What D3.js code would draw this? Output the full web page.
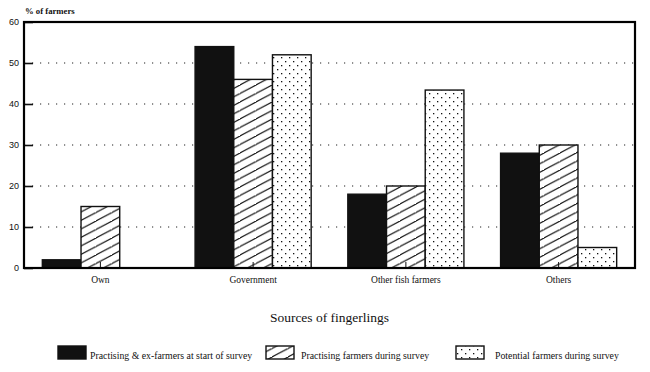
<!DOCTYPE html>
<html><head><meta charset="utf-8">
<script src="https://cdn.jsdelivr.net/npm/d3@7"></script>
<style>body{margin:0;background:#fff}</style>
</head><body>
<svg id="c" width="650" height="372"></svg>
<script>
const categories = ["Own", "Government", "Other fish farmers", "Others"];
const seriesNames = ["Practising & ex-farmers at start of survey", "Practising farmers during survey", "Potential farmers during survey"];
const startSurvey = [2, 54, 18, 28];
const practisingDuring = [15, 46, 20, 30];
const potentialDuring = [0, 52, 43.4, 5];
const yTicks = [0, 10, 20, 30, 40, 50, 60];

const series = [startSurvey, practisingDuring, potentialDuring];
const fills = ["#111", "url(#hatch)", "url(#dots)"];

const svg = d3.select("#c");
const defs = svg.append("defs");
const h = defs.append("pattern").attr("id","hatch").attr("patternUnits","userSpaceOnUse")
  .attr("width",16).attr("height",8.5);
h.append("rect").attr("width",16).attr("height",8.5).attr("fill","#fff");
h.append("path").attr("d","M-16,17 L16,0 M0,8.5 L16,0 M0,8.5 L32,-8.5 M-16,8.5 L16,-8.5").attr("stroke","#111").attr("stroke-width",1.1);
const d = defs.append("pattern").attr("id","dots").attr("patternUnits","userSpaceOnUse")
  .attr("width",8).attr("height",8);
d.append("rect").attr("width",8).attr("height",8).attr("fill","#fff");
d.append("rect").attr("x",1).attr("y",1).attr("width",1.3).attr("height",1.3).attr("fill","#111");
d.append("rect").attr("x",5).attr("y",5).attr("width",1.3).attr("height",1.3).attr("fill","#111");

const L=24, R=635, T=22, B=268;
const x = d3.scaleBand().domain(categories).range([L,R]).paddingInner(0.24).paddingOuter(0.12);
const xs = d3.scaleBand().domain(d3.range(3)).range([0,x.bandwidth()]);
const y = d3.scaleLinear().domain([0,60]).range([B,T]);

// grid
svg.append("g").selectAll("line").data(yTicks.filter(t=>t>0&&t<60)).join("line")
  .attr("x1",L).attr("x2",R).attr("y1",d=>y(d)).attr("y2",d=>y(d))
  .attr("stroke","#222").attr("stroke-width",1.2).attr("stroke-dasharray","1.2,6.8");

// bars
categories.forEach((c,i)=>{
  series.forEach((s,j)=>{
    if (s[i] <= 0) return;
    svg.append("rect").attr("x",x(c)+xs(j)).attr("y",y(s[i]))
      .attr("width",xs.bandwidth()).attr("height",B-y(s[i]))
      .attr("fill",fills[j]).attr("stroke","#111").attr("stroke-width",1.4);
  });
});

// y axis
const ya = svg.append("g").attr("transform",`translate(${L},0)`)
  .call(d3.axisLeft(y).tickValues(yTicks).tickSize(-9).tickPadding(6));
ya.select(".domain").remove();
ya.selectAll(".tick line").attr("stroke","#111").attr("stroke-width",1.6);
ya.selectAll("text").attr("font-family","Liberation Sans, Arial, sans-serif").attr("font-size",9).attr("fill","#111").attr("x",-5);

// x axis
const xa = svg.append("g").attr("transform",`translate(0,${B})`)
  .call(d3.axisBottom(x).tickSize(-6).tickPadding(8));
xa.select(".domain").remove();
xa.selectAll(".tick line").attr("stroke","#111").attr("stroke-width",1);
xa.selectAll("text").attr("font-family","Liberation Serif, Times New Roman, serif").attr("font-size",9.5).attr("fill","#111");

// frame
svg.append("rect").attr("x",L).attr("y",T).attr("width",R-L).attr("height",B-T)
  .attr("fill","none").attr("stroke","#000").attr("stroke-width",2.2);

svg.append("text").attr("x",25).attr("y",14).text("% of farmers")
  .attr("font-family","Liberation Serif, serif").attr("font-size",8.7).attr("font-weight","bold").attr("fill","#111");

svg.append("text").attr("x",(L+R)/2).attr("y",322).attr("text-anchor","middle").text("Sources of fingerlings")
  .attr("font-family","Liberation Serif, Times New Roman, serif").attr("font-size",13.5).attr("fill","#111");

// legend
const legX = [58, 266, 456], txtX = [90, 301, 495];
seriesNames.forEach((n,j)=>{
  svg.append("rect").attr("x",legX[j]).attr("y",346).attr("width",28).attr("height",13)
    .attr("fill",fills[j]).attr("stroke","#111").attr("stroke-width",1.4);
  svg.append("text").attr("x",txtX[j]).attr("y",359).text(n)
    .attr("font-family","Liberation Serif, Times New Roman, serif").attr("font-size",9.8).attr("fill","#111");
});
</script>
</body></html>
